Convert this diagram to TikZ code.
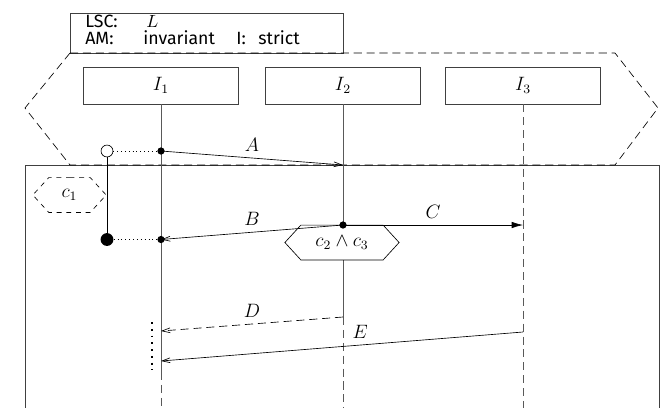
\documentclass[12pt,tikz,border=0pt]{standalone}
\usepackage{fontspec}
\newfontfamily\lscfont{Fira Sans}
\usetikzlibrary{arrows.meta,positioning,shapes.symbols}

\begin{document}
\begin{tikzpicture}[x=0.0218cm,y=-0.0218cm,>=Latex,
  inst/.style={rectangle,draw=black!75,minimum width=3.38cm,minimum height=0.81cm,inner sep=0pt},
  life/.style={draw=black!65},
  cond/.style={signal,signal to=west and east,signal pointer angle=95,draw,fill=white,inner sep=1pt,minimum height=0.76cm},
  ev/.style={circle,fill,inner sep=0pt,minimum size=4.5pt},
  msg/.style={-{Straight Barb[length=5pt,width=3pt]}},
  lbl/.style={font=\lscfont\fontsize{11}{12}\selectfont,anchor=base west,inner sep=0pt,text height=7.4pt,text depth=0pt}]
\clip (0,0) rectangle (664,407);
% header of the chart
\node[draw=black!75,anchor=north west,minimum width=5.95cm,minimum height=0.87cm] (head) at (70,13) {};
\node[lbl] (lsc) at (85,27.5) {LSC:};
\node[lbl] (lscname) at (146,27.5) {$L$};
\node[lbl] (am) at (85,44) {AM:};
\node[lbl] (amval) at (143,44) {invariant};
\node[lbl] (il) at (236,44) {I:};
\node[lbl] (ival) at (258,44) {strict};
% main chart and prechart
\draw[black!75] (25,420) -- (25,165) -- (659,165) -- (659,420);
\draw[dashed,dash pattern=on 5pt off 3pt] (70,53) -- (615,53) -- (658,108) -- (615,165) -- (70,165) -- (25,108) -- cycle;
% instances
\node[inst] (i1) at (161,85.5) {$I_1$};
\node[inst] (i2) at (343,85.5) {$I_2$};
\node[inst] (i3) at (523,85.5) {$I_3$};
% lifelines
\coordinate (i1cut) at (161,372);
\coordinate (i1end) at (161,420);
\coordinate (i2cut) at (343,317);
\coordinate (i2end) at (343,420);
\coordinate (i3end) at (523,420);
\draw[life] (i1) -- (i1cut);
\draw[life,dashed,dash pattern=on 5pt off 3pt] (i1cut) -- (i1end);
\draw[life] (i2) -- (i2cut);
\draw[life,dashed,dash pattern=on 5pt off 3pt] (i2cut) -- (i2end);
\draw[life,dashed,dash pattern=on 5pt off 3pt] (i3) -- (i3end);
% conditions
\node[cond,dashed,minimum width=1.6cm] (c1) at (69.5,195) {$c_1$};
\node[cond,minimum width=2.49cm] (c23) at (342,242.5) {$c_2\wedge c_3$};
% events
\node[ev] (a1) at (161,151) {};
\coordinate (a2) at (343,165);
\node[ev] (b1) at (343,225) {};
\node[ev] (b2) at (161,239.5) {};
\coordinate (c2) at (523,225);
\coordinate (d1) at (343,317);
\coordinate (d2) at (161,331);
\coordinate (e1) at (523,332);
\coordinate (e2) at (161,361);
% messages
\draw[msg] (a1.center) -- node[above]{$A$} (a2);
\draw[msg] (b1.center) -- node[above]{$B$} (b2.center);
\draw[-{Latex[length=7pt,width=4pt]}] (b1.center) -- node[above]{$C$} (c2);
\draw[msg,dashed,dash pattern=on 5pt off 3pt] (d1) -- node[above]{$D$} (d2);
\draw[msg] (e1) -- node[above,pos=.45]{$E$} (e2);
% subchart condition markers
\node[circle,draw,fill=white,minimum size=0.26cm,inner sep=0pt] (cstart) at (107,151) {};
\node[circle,fill,minimum size=0.28cm,inner sep=0pt] (cend) at (107,239.5) {};
\draw (cstart) -- (cend);
\draw[dotted] (cstart) -- (a1);
\draw[dotted] (cend) -- (b2);
% coregion
\coordinate (co1) at (152,322);
\coordinate (co2) at (152,370);
\draw[line width=1.2pt,dash pattern=on 1.2pt off 3pt] (co1) -- (co2);
\end{tikzpicture}
\end{document}
